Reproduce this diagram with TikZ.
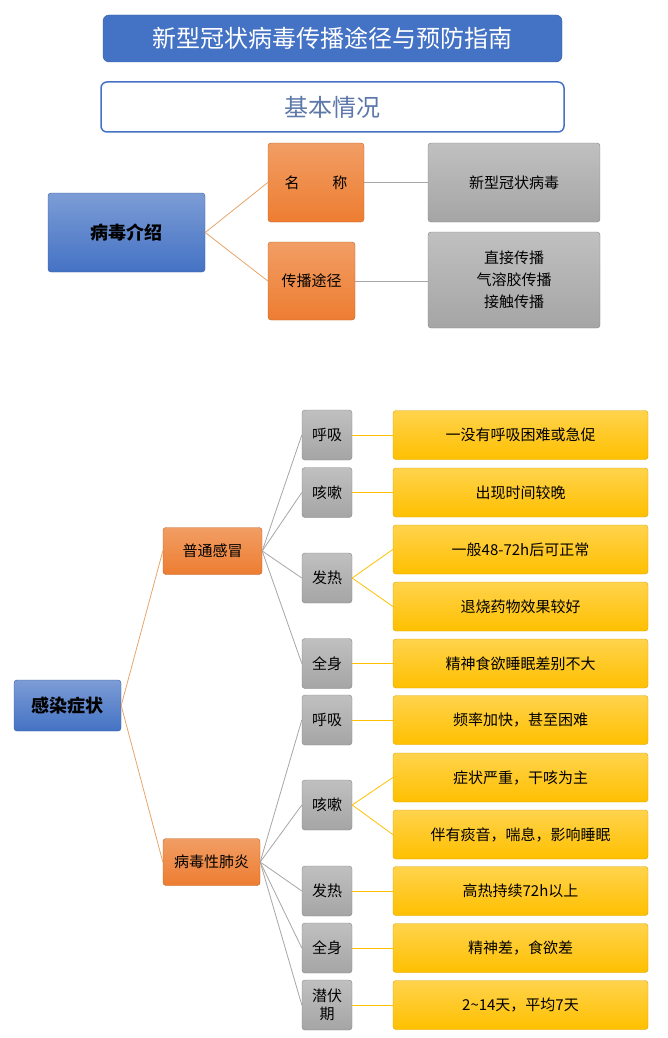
\documentclass[tikz,border=0pt]{standalone}
\usepackage{fontspec}
\setmainfont{Noto Sans CJK SC}
\definecolor{covblue}{HTML}{4472C4}
\definecolor{covorange}{HTML}{ED7D31}
\definecolor{covgray}{HTML}{A5A5A5}
\definecolor{covyellow}{HTML}{FFC000}
\definecolor{covline}{HTML}{E8A56A}

\begin{document}
\begin{tikzpicture}[x=1pt, y=-1pt,
    box/.style={rectangle, rounded corners=3pt, inner sep=0pt, align=center, font=\fontsize{15}{22}\selectfont},
    bluebox/.style={box, draw=covblue!80!black, top color=covblue!70, bottom color=covblue, font=\fontsize{18}{22}\selectfont\bfseries},
    orangebox/.style={box, draw=covorange!80!black, top color=covorange!75, bottom color=covorange},
    graybox/.style={box, draw=covgray!80!black, top color=covgray!70, bottom color=covgray},
    yellowbox/.style={box, draw=covyellow!85!black, top color=covyellow!70, bottom color=covyellow, minimum width=255, minimum height=49},
    orangeline/.style={covline, thick},
    grayline/.style={gray!70, thick},
    yellowline/.style={covyellow, thick}]
            \useasboundingbox (0,0) rectangle (668,1038);

            % Title
            \node[box, rounded corners=6pt, fill=covblue, draw=covblue!80!black, text=white, minimum width=459, minimum height=47,
                font=\fontsize{24}{28}\selectfont] (title) at (332.5,38.5) {新型冠状病毒传播途径与预防指南};
            \node[box, rounded corners=6pt, fill=white, draw=covblue, line width=1.5pt, text=covblue!60!gray, minimum width=463, minimum height=50,
                font=\fontsize{24}{28}\selectfont] (basic) at (332.5,107) {基本情况};

            % Virus introduction
            \node[bluebox, minimum width=157, minimum height=79] (intro) at (126.5,232.5) {病毒介绍};
            \node[orangebox, minimum width=96, minimum height=79] (name) at (316,182.5) {名\hspace{2.2em}称};
            \node[orangebox, minimum width=87, minimum height=78] (route) at (311.5,281) {传播途径};
            \node[graybox, minimum width=172, minimum height=79] (namev) at (514,182.5) {新型冠状病毒};
            \node[graybox, minimum width=172, minimum height=96] (routev) at (514,280) {直接传播\\气溶胶传播\\接触传播};

            \draw[orangeline] (intro.east) -- (name.west);
            \draw[orangeline] (intro.east) -- (route.west);
            \draw[grayline] (name) -- (namev);
            \draw[grayline] (route.east) -- (route.east -| routev.west);

            % Symptoms
            \node[bluebox, minimum width=107, minimum height=51] (sympt) at (67.5,705.5) {感染症状};
            \node[orangebox, minimum width=99, minimum height=47] (cold) at (212.5,551) {普通感冒};
            \node[orangebox, minimum width=97, minimum height=47] (pneu) at (211.5,862) {病毒性肺炎};
            \draw[orangeline] (sympt.east) -- (cold.west);
            \draw[orangeline] (sympt.east) -- (pneu.west);

            % Common cold
            \foreach \nm/\txt/\yy in {ca/呼吸/435, cb/咳嗽/492.5, cc/发热/578, cd/全身/663.5} {
                \node[graybox, minimum width=50, minimum height=50] (\nm) at (327,\yy) {\txt};
                \draw[grayline] (cold.east) -- (\nm.west);
            }
            \foreach \nm/\txt/\yy in {ya/一没有呼吸困难或急促/435, yb/出现时间较晚/492.5, yc/一般48-72h后可正常/549.5,
                yd/退烧药物效果较好/606.5, ye/精神食欲睡眠差别不大/663.5} {
                \node[yellowbox] (\nm) at (520.5,\yy) {\txt};
            }
            \draw[yellowline] (ca) -- (ya);
            \draw[yellowline] (cb) -- (yb);
            \draw[yellowline] (cc.east) -- (yc.west);
            \draw[yellowline] (cc.east) -- (yd.west);
            \draw[yellowline] (cd) -- (ye);

            % Viral pneumonia
            \foreach \nm/\txt/\yy in {pa/呼吸/720, pb/咳嗽/805, pc/发热/891, pd/全身/948, pe/潜伏\\期/1005} {
                \node[graybox, minimum width=50, minimum height=50, font=\fontsize{15}{18}\selectfont] (\nm) at (327,\yy) {\txt};
                \draw[grayline] (pneu.east) -- (\nm.west);
            }
            \foreach \nm/\txt/\yy in {qa/{频率加快，甚至困难}/720, qb/{症状严重，干咳为主}/777.5, qc/{伴有痰音，喘息，影响睡眠}/834.5,
                qd/高热持续72h以上/891, qe/{精神差，食欲差}/948, qf/{2\textasciitilde14天，平均7天}/1005} {
                \node[yellowbox] (\nm) at (520.5,\yy) {\txt};
            }
            \draw[yellowline] (pa) -- (qa);
            \draw[yellowline] (pb.east) -- (qb.west);
            \draw[yellowline] (pb.east) -- (qc.west);
            \draw[yellowline] (pc) -- (qd);
            \draw[yellowline] (pd) -- (qe);
            \draw[yellowline] (pe) -- (qf);
        \end{tikzpicture}
\end{document}
